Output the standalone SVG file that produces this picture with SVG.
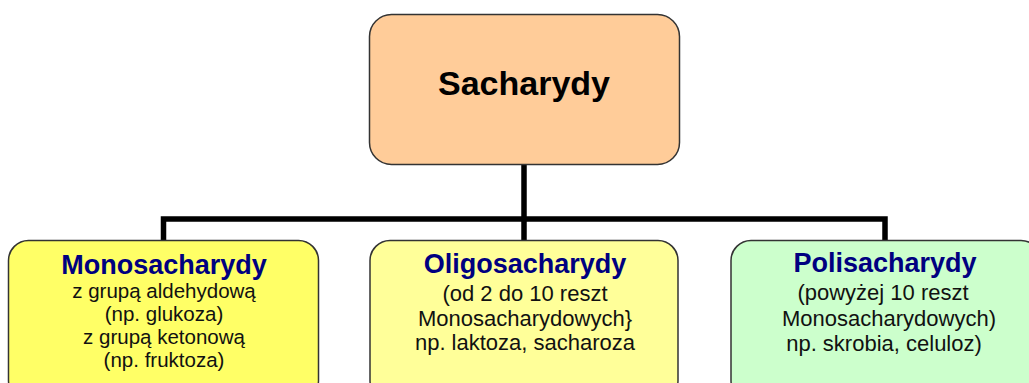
<svg xmlns="http://www.w3.org/2000/svg" width="1029" height="383" viewBox="0 0 1029 383">
<style>
.box{stroke:#333333;stroke-width:1.5}
.conn{stroke:#000000;stroke-width:5.5;fill:none;stroke-linecap:butt}
.main{font-family:"Liberation Sans",Arial,sans-serif;font-weight:bold;font-size:34px;fill:#000000;text-anchor:middle}
.title{font-family:"Liberation Sans",Arial,sans-serif;font-weight:bold;font-size:27px;fill:#000080;text-anchor:middle}
.body{font-family:"Liberation Sans",Arial,sans-serif;font-size:22px;fill:#111111;text-anchor:middle}
.body2{font-family:"Liberation Sans",Arial,sans-serif;font-size:20.5px;fill:#111111;text-anchor:middle}
</style>
<rect width="1029" height="383" fill="#ffffff"/>
<g id="connectors">
<path class="conn" d="M524 165 V219"/>
<path class="conn" d="M163.5 240 V219 H885 V240"/>
<path class="conn" d="M524 219 V240"/>
</g>
<g id="sacharydy">
<rect class="box" x="369.5" y="14.5" width="310" height="150" rx="22" fill="#FFCC99"/>
<text class="main" x="524" y="95">Sacharydy</text>
</g>
<g id="monosacharydy">
<rect class="box" x="8.5" y="240.5" width="310" height="160" rx="20" fill="#FFFF66"/>
<text class="title" x="164" y="274">Monosacharydy</text>
<text class="body2" x="164" y="297.5">z grupą aldehydową</text>
<text class="body2" x="164" y="320.5">(np. glukoza)</text>
<text class="body2" x="164" y="344">z grupą ketonową</text>
<text class="body2" x="164" y="367">(np. fruktoza)</text>
</g>
<g id="oligosacharydy">
<rect class="box" x="370" y="240.5" width="308" height="160" rx="20" fill="#FFFF99"/>
<text class="title" x="525" y="273">Oligosacharydy</text>
<text class="body" x="525" y="301">(od 2 do 10 reszt</text>
<text class="body" x="525" y="325.5">Monosacharydowych}</text>
<text class="body" x="525" y="350">np. laktoza, sacharoza</text>
</g>
<g id="polisacharydy">
<rect class="box" x="731" y="240.5" width="310" height="160" rx="20" fill="#CCFFCC"/>
<text class="title" x="885" y="272">Polisacharydy</text>
<text class="body" x="883" y="300">(powyżej 10 reszt</text>
<text class="body" x="889" y="326">Monosacharydowych)</text>
<text class="body" x="884" y="351">np. skrobia, celuloz)</text>
</g>
</svg>
